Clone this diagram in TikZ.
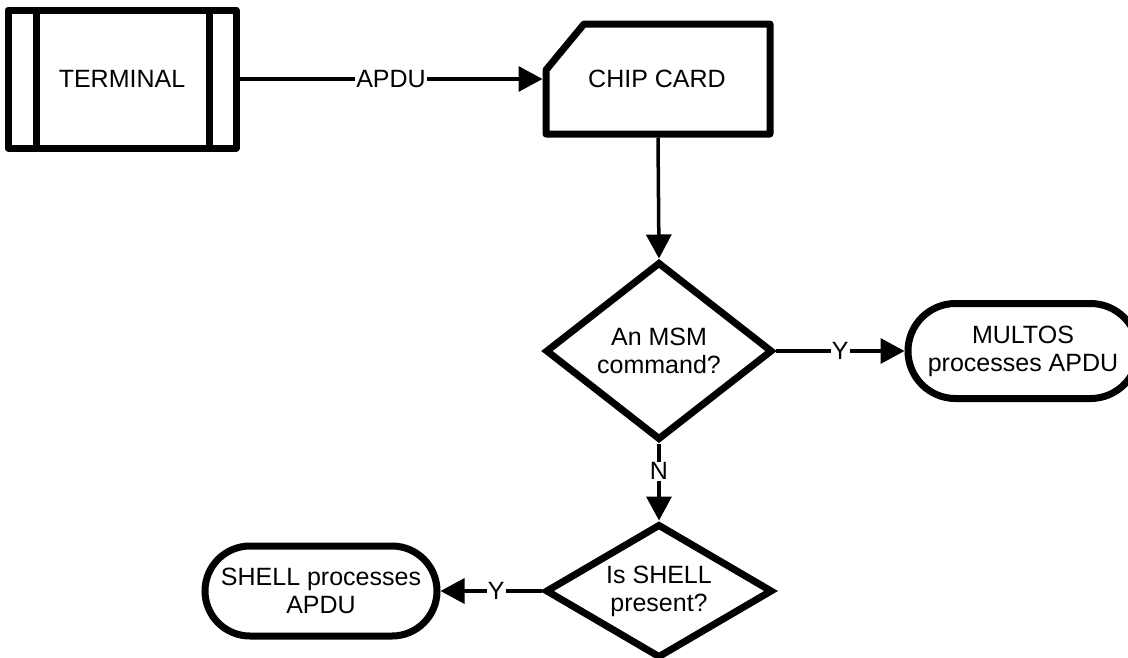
\documentclass[tikz,border=0pt]{standalone}
\usepackage{fontspec}
\setmainfont{Liberation Sans}
\usetikzlibrary{shapes.geometric,shapes.misc,arrows.meta}
\begin{document}
\begin{tikzpicture}[x=1pt,y=-1pt,
  box/.style={line width=7pt, line join=round},
  txt/.style={font=\fontsize{25}{28}\selectfont, align=center, inner sep=0pt},
  dec/.style={diamond, draw, line width=7pt, minimum width=227pt, inner sep=0pt, font=\fontsize{25}{28}\selectfont, align=center},
  term/.style={rounded rectangle, draw, line width=7pt, font=\fontsize{25}{28}\selectfont, align=center, inner sep=0pt},
  conn/.style={line width=3.5pt, -{Triangle[length=24pt,width=25pt]}},
  lbl/.style={fill=white, inner sep=1pt, font=\fontsize{25}{28}\selectfont}]
\useasboundingbox (0,0) rectangle (1128,657);
% TERMINAL
\node[draw, box, minimum width=228pt, minimum height=138pt, txt] (terminal) at (122,79) {TERMINAL};
\draw[line width=7pt] (36,10) -- (36,148) (209,10) -- (209,148);
% CHIP CARD
\node[minimum width=224pt, minimum height=110pt, inner sep=0pt, outer sep=3.5pt] (chip) at (658,79) {};
\draw[box] (546,70) -- (584,24) -- (770,24) -- (770,134) -- (546,134) -- cycle;
\node[txt] (chiptext) at (657,79) {CHIP CARD};
% decisions
\node[dec, minimum height=178pt, aspect=1.3] (msm) at (659,351) {An MSM\\command?};
\node[dec, minimum height=134pt, aspect=1.8] (shell) at (659,591) {Is SHELL\\present?};
% terminators
\node[term, minimum width=230pt, minimum height=95pt] (multos) at (1023,351) {MULTOS\\processes APDU};
\node[term, minimum width=232pt, minimum height=90pt] (shellp) at (321,591) {SHELL processes\\APDU};
% connectors
\draw[conn] (terminal.east) -- node[lbl] {APDU} (chip.west);
\draw[conn] (chip.south) -- (msm.north);
\draw[conn] (msm.east) -- node[lbl] {Y} (multos.west);
\draw[conn] (msm.south) -- node[lbl, pos=0.36] {N} (shell.north);
\draw[conn] (shell.west) -- node[lbl, pos=0.45] {Y} (shellp.east);
\end{tikzpicture}
\end{document}
